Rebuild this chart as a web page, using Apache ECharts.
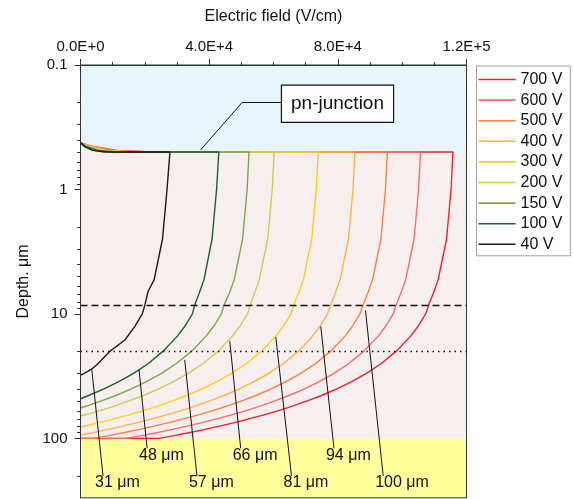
<!DOCTYPE html>
<html>
<head>
<meta charset="utf-8">
<script src="https://cdn.jsdelivr.net/npm/echarts@6/dist/echarts.min.js"></script>
<style>
  html, body { margin: 0; padding: 0; background: #fff; }
  #chart { width: 573px; height: 499px; }
</style>
</head>
<body>
<div id="chart"></div>
<script>
// Bias voltages (legend order) and their line colours
const voltages = ['700 V', '600 V', '500 V', '400 V', '300 V', '200 V', '150 V', '100 V', '40 V'];
const lineColors = ['#ff1a2e', '#ff6b6b', '#ff7f3f', '#ffb347', '#ffcc1a', '#c9cc55', '#7fa34a', '#1d5e2e', '#1a1a1a'];

// Electric field profiles: [field (V/cm), depth (µm)]
const field700 = [[0,0.42],[3400,0.45],[11200,0.485],[22500,0.5],[115800,0.5],[115200,1],[113800,2.5],[111200,5.3],[109800,6.7],[108200,8.5],[107300,10],[105000,12.5],[102700,15],[98100,20],[93500,25],[88900,30],[84300,35],[79700,40],[75100,45],[70500,50],[65900,55],[61300,60],[56700,65],[52100,70],[47500,75],[42900,80],[38300,85],[33700,90],[29100,95],[24500,100],[0,100]];
const field600 = [[0,0.42],[3200,0.45],[10500,0.485],[21000,0.5],[105700,0.5],[105100,1],[103700,2.5],[101100,5.3],[99700,6.7],[98100,8.5],[97200,10],[94900,12.5],[92600,15],[88000,20],[83400,25],[78800,30],[74200,35],[69600,40],[65000,45],[60400,50],[55800,55],[51200,60],[46600,65],[42000,70],[37400,75],[32800,80],[28200,85],[23600,90],[19000,95],[14400,100],[0,100]];
const field500 = [[0,0.42],[2900,0.45],[9500,0.485],[19000,0.5],[95400,0.5],[94800,1],[93400,2.5],[90800,5.3],[89400,6.7],[87800,8.5],[86900,10],[84600,12.5],[82300,15],[77700,20],[73100,25],[68500,30],[63900,35],[59300,40],[54700,45],[50100,50],[45500,55],[40900,60],[36300,65],[31700,70],[27100,75],[22500,80],[17900,85],[13300,90],[8700,95],[4100,100],[0,100]];
const field400 = [[0,0.42],[2600,0.45],[8500,0.485],[17000,0.5],[85300,0.5],[84700,1],[83300,2.5],[80700,5.3],[79300,6.7],[77700,8.5],[76800,10],[74500,12.5],[72200,15],[67700,20],[63100,25],[58500,30],[54000,35],[49400,40],[44800,45],[40200,50],[35700,55],[31100,60],[26500,65],[21900,70],[17400,75],[12800,80],[8200,85],[3700,90],[0,94]];
const field300 = [[0,0.42],[2300,0.45],[7500,0.485],[15000,0.5],[73900,0.5],[73300,1],[71900,2.5],[69300,5.3],[67900,6.7],[66300,8.5],[65400,10],[63100,12.5],[60800,15],[56200,20],[51600,25],[47000,30],[42400,35],[37800,40],[33200,45],[28600,50],[24000,55],[19300,60],[14700,65],[10100,70],[5500,75],[2800,78],[0,81]];
const field200 = [[0,0.42],[2000,0.45],[6500,0.485],[13000,0.5],[60200,0.5],[59600,1],[58200,2.5],[55600,5.3],[54200,6.7],[52700,8.5],[51900,10],[49600,12.5],[47300,15],[42700,20],[38100,25],[33500,30],[28900,35],[24300,40],[19700,45],[15100,50],[10500,55],[5900,60],[3100,63],[0,66]];
const field150 = [[0,0.42],[1700,0.45],[5800,0.485],[11500,0.5],[52400,0.5],[51800,1],[50400,2.5],[47800,5.3],[46400,6.7],[44600,8.5],[43800,10],[41500,12.5],[39100,15],[34500,20],[29800,25],[25200,30],[20500,35],[15800,40],[11200,45],[6500,50],[2800,54],[0,57]];
const field100 = [[0,0.42],[1500,0.45],[5000,0.485],[10000,0.5],[43000,0.5],[42300,1],[40900,2.5],[38400,5.3],[37000,6.7],[35500,8.5],[34800,10],[32500,12.5],[30200,15],[25600,20],[21100,25],[16500,30],[11900,35],[7300,40],[2700,45],[0,48]];
const field40 = [[0,0.42],[1100,0.45],[3700,0.485],[7500,0.5],[27800,0.5],[26900,1],[25500,2.5],[22900,5.3],[21000,6.6],[20000,8.5],[19200,10],[16900,12.6],[13800,16.2],[9100,20],[5000,25.7],[3400,27.8],[1300,29.9],[0,31]];
const profiles = [field700, field600, field500, field400, field300, field200, field150, field100, field40];

// Depletion depth labels, the point on each curve they refer to, and the label anchor
const depthLabels = ['31 μm', '48 μm', '57 μm', '66 μm', '81 μm', '94 μm', '100 μm'];
const leaderTips = [[3500,27.8],[18200,28.2],[32400,23.4],[46400,16.5],[60700,15.3],[74700,12.6],[88600,9.4]];
const labelAnchors = [[7000,200],[20700,120],[36200,200],[49800,120],[65600,200],[78800,120],[94100,200]];

// Region boundaries (µm) and reference depths
const junctionDepth = 0.5;
const backsideDepth = 100;
const dashedDepth = 8.5;
const dottedDepth = 20;

// Axis ticks
const xTickInterval = 40000;
const yMajorTicks = [0.1, 1, 10, 100];
const yMinorTicks = [0.2,0.3,0.4,0.5,0.6,0.7,0.8,0.9,2,3,4,5,6,7,8,9,20,30,40,50,60,70,80,90,200];

const font = "'Liberation Sans', Arial, sans-serif";
const ink = '#111111';

function sciLabel(v) {
  if (v === 0) return '0.0E+0';
  const e = Math.floor(Math.log10(v) + 1e-9);
  return (v / Math.pow(10, e)).toFixed(1) + 'E+' + e;
}

const chart = echarts.init(document.getElementById('chart'), null, { renderer: 'canvas' });

const curveSeries = voltages.map((name, i) => ({
  name: name,
  type: 'line',
  data: profiles[i],
  symbol: 'none',
  showSymbol: false,
  smooth: false,
  lineStyle: { color: lineColors[i], width: 1.4 },
  itemStyle: { color: lineColors[i] },
  z: 2
}));

const leaderLines = leaderTips.map((t, i) => [{ coord: t }, { coord: labelAnchors[i] }]);

const annotationSeries = {
  name: 'labels',
  type: 'scatter',
  data: labelAnchors,
  symbolSize: 0,
  itemStyle: { color: '#000', opacity: 1 },
  silent: true,
  label: {
    show: true,
    position: [-8, -1],
    align: 'left',
    verticalAlign: 'top',
    fontFamily: font,
    fontSize: 16,
    color: ink,
    textBorderWidth: 0,
    formatter: p => depthLabels[p.dataIndex]
  },
  markArea: {
    silent: true,
    data: [
      [{ yAxis: 0.1, itemStyle: { color: '#e7f5fc' } }, { yAxis: junctionDepth }],
      [{ yAxis: junctionDepth, itemStyle: { color: '#f7eeee' } }, { yAxis: backsideDepth }],
      [{ yAxis: backsideDepth, itemStyle: { color: '#ffff9c' } }, { yAxis: 300 }]
    ]
  },
  markLine: {
    silent: true,
    symbol: ['none', 'none'],
    label: { show: false },
    lineStyle: { color: '#111', width: 1, type: 'solid', opacity: 1 },
    data: [
      { yAxis: dashedDepth, lineStyle: { type: [7, 4], width: 1.3 } },
      { yAxis: dottedDepth, lineStyle: { type: [1.5, 4], width: 1.4 } },
      ...leaderLines,
      [{ coord: [62700, 0.201] }, { coord: [50200, 0.201] }],
      [{ coord: [50200, 0.201] }, { coord: [37300, 0.482] }]
    ]
  }
};

const junctionBox = {
  name: 'junction',
  type: 'scatter',
  data: [[79900, 0.205]],
  symbolSize: 0,
  itemStyle: { color: '#000', opacity: 1 },
  silent: true,
  z: 6,
  label: {
    show: true,
    position: 'inside',
    formatter: 'pn-junction',
    fontFamily: font,
    fontSize: 19,
    lineHeight: 22,
    color: ink,
    textBorderWidth: 0,
    backgroundColor: '#fff',
    borderColor: '#111',
    borderWidth: 1.2,
    padding: [7, 9, 7, 9]
  }
};

const option = {
  animation: false,
  backgroundColor: '#fff',
  textStyle: { fontFamily: font },
  grid: {
    left: 80.5, top: 65, right: 106.5, bottom: 1.2,
    show: true, borderColor: '#333', borderWidth: 1, backgroundColor: 'transparent', z: 5
  },
  legend: {
    data: voltages,
    orient: 'vertical',
    left: 476.5,
    top: 66,
    icon: 'rect',
    itemWidth: 37,
    itemHeight: 1.6,
    itemGap: 4.6,
    padding: [5.5, 8, 3.5, 2],
    backgroundColor: '#fff',
    borderColor: '#a0a0a0',
    borderWidth: 1,
    textStyle: { fontFamily: font, fontSize: 16, lineHeight: 16, color: ink }
  },
  xAxis: {
    type: 'value',
    position: 'top',
    min: 0,
    max: 120000,
    interval: xTickInterval,
    name: 'Electric field (V/cm)',
    nameLocation: 'middle',
    nameGap: 40,
    nameTextStyle: { fontFamily: font, fontSize: 16, color: ink },
    axisLine: { show: true, lineStyle: { color: '#333', width: 1 } },
    axisTick: { show: true, length: 6, lineStyle: { color: '#333' } },
    minorTick: { show: true, splitNumber: 4, length: 3, lineStyle: { color: '#333' } },
    splitLine: { show: false },
    axisLabel: { margin: 11, fontFamily: font, fontSize: 15, color: ink, formatter: sciLabel },
    z: 5
  },
  yAxis: [
    {
      type: 'log',
      logBase: 10,
      inverse: true,
      min: 0.1,
      max: 300,
      position: 'left',
      name: 'Depth. μm',
      nameLocation: 'middle',
      nameGap: 46,
      nameTextStyle: { fontFamily: font, fontSize: 16, color: ink },
      axisLine: { show: true, lineStyle: { color: '#333', width: 1 } },
      axisTick: { show: true, length: 6, customValues: yMajorTicks, lineStyle: { color: '#333' } },
      splitLine: { show: false },
      axisLabel: {
        customValues: yMajorTicks,
        margin: 13,
        fontFamily: font,
        fontSize: 15,
        color: ink,
        formatter: v => (v < 1 ? Number(v).toFixed(1) : String(Math.round(v)))
      },
      z: 5
    },
    {
      type: 'log',
      logBase: 10,
      inverse: true,
      min: 0.1,
      max: 300,
      position: 'left',
      axisLine: { show: false },
      axisTick: { show: true, length: 3.5, customValues: yMinorTicks, lineStyle: { color: '#333' } },
      axisLabel: { show: false },
      splitLine: { show: false },
      z: 5
    }
  ],
  series: [annotationSeries, ...curveSeries, junctionBox]
};

chart.setOption(option);
</script>
</body>
</html>
